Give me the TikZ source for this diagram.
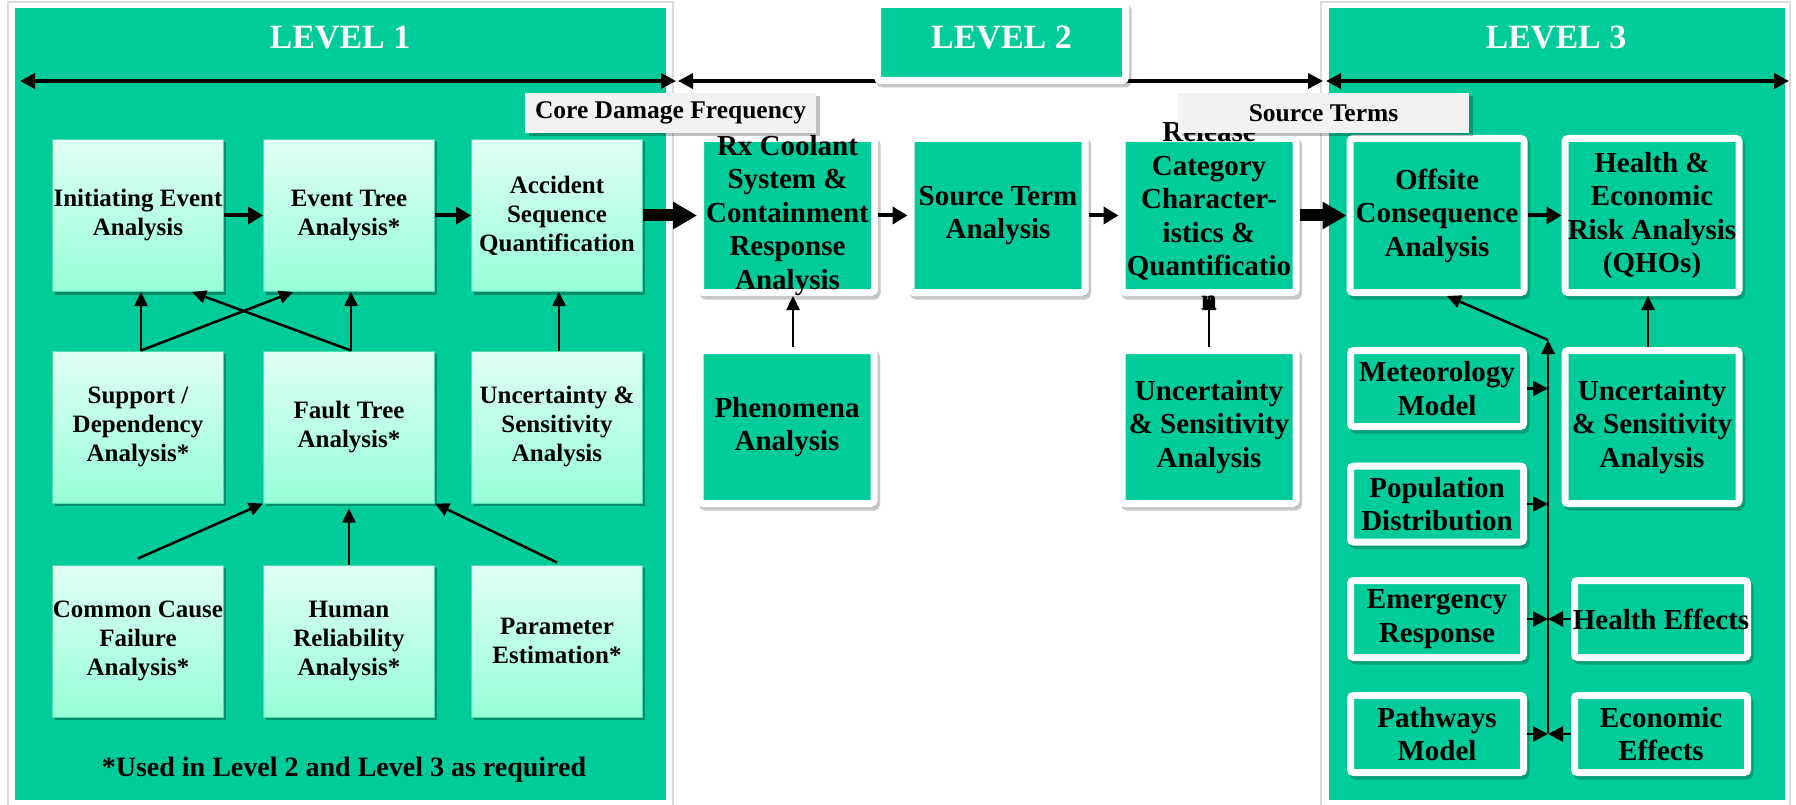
\documentclass[tikz,border=0pt]{standalone}
\usepackage{fontspec}
\setmainfont{Liberation Serif}
\usetikzlibrary{arrows.meta}

\definecolor{panel}{RGB}{0,204,153}
\definecolor{mintT}{RGB}{224,255,246}
\definecolor{mintB}{RGB}{150,255,216}
\definecolor{rim}{RGB}{80,222,176}
\definecolor{tagfill}{RGB}{242,242,242}

% light box of the first level: shaded fill, text set in a separate node
\newcommand\lightbox[6]{%
  \node[lbox, minimum width=#4pt, minimum height=#5pt] (#1) at (#2,#3) {};
  \node[ltext] (#1-txt) at (#1.center) {#6};}
% green box in a white frame
\newcommand\greenbox[6]{%
  \node[fbox, minimum width=#4pt, minimum height=#5pt] (#1) at (#2,#3) {};
  \node[ftext] (#1-txt) at (#1.center) {#6};}

\begin{document}
\begin{tikzpicture}[x=1pt,y=-1pt,
  pframe/.style={fill=white, draw=black!14, line width=1.5pt},
  ttl/.style={text=white, font=\fontsize{34}{40}\selectfont\bfseries, inner sep=0pt},
  lbox/.style={rectangle, inner sep=0pt, top color=mintT, bottom color=mintB,
    draw=rim, line width=1pt,
    preaction={fill=black!55!panel, opacity=0.55,
      transform canvas={shift={(2.5pt,-3pt)}}}},
  ltext/.style={font=\fontsize{25}{29}\selectfont\bfseries, align=center, inner sep=0pt},
  fbox/.style={rectangle, inner sep=0pt, fill=panel, draw=white, line width=7pt,
    rounded corners=3pt,
    preaction={draw=black, fill=black, opacity=0.22,
      transform canvas={shift={(2.5pt,-3.5pt)}}}},
  ftext/.style={font=\fontsize{29}{33.5}\selectfont\bfseries, align=center, inner sep=0pt},
  tag/.style={rectangle, inner sep=0pt, fill=tagfill,
    font=\fontsize{25.5}{30}\selectfont\bfseries,
    preaction={fill=black, opacity=0.25, transform canvas={shift={(4pt,-3pt)}}}},
  foot/.style={font=\fontsize{28}{33}\selectfont\bfseries, inner sep=0pt},
  span/.style={{Triangle[length=15pt,width=15pt]}-{Triangle[length=15pt,width=15pt]}, line width=3.5pt},
  flow/.style={-{Triangle[length=15pt,width=17pt]}, line width=4pt},
  bigflow/.style={-{Triangle[length=24pt,width=26pt]}, line width=12pt},
  feed/.style={-{Triangle[length=14pt,width=13pt]}, line width=2.5pt},
  tick/.style={-{Triangle[length=15pt,width=15pt]}, line width=2.5pt}]

\useasboundingbox (0,0) rectangle (1796,805);
\fill[white] (0,0) rectangle (1796,805);

% level panels
\draw[pframe] (8,2) rectangle (673,812);
\fill[panel] (15,8) rectangle (666,800);
\draw[pframe] (1321,2) rectangle (1790,812);
\fill[panel] (1329,8) rectangle (1785,800);

\node[ttl] (lv1) at (340,38) {LEVEL 1};
\node[ttl] (lv3) at (1556,38) {LEVEL 3};

% spans of the three levels
\coordinate (a1l) at (20,81);   \coordinate (a1r) at (676,81);
\coordinate (a2l) at (678,81);  \coordinate (a2r) at (1323,81);
\coordinate (a3l) at (1326,81); \coordinate (a3r) at (1789,81);
\draw[span] (a1l) -- (a1r);
\draw[span] (a2l) -- (a2r);
\draw[span] (a3l) -- (a3r);

\node[fbox, minimum width=248pt, minimum height=76pt] (lv2box) at (1001.5,42.5) {};
\node[ttl] (lv2) at (1001.5,38) {LEVEL 2};

% level 1 analyses
\lightbox{ie}{138}{215.5}{171}{152}{Initiating Event\\Analysis}
\lightbox{et}{349}{215.5}{171}{152}{Event Tree\\Analysis*}
\lightbox{asq}{557}{215.5}{171}{152}{Accident\\Sequence\\Quantification}
\lightbox{sd}{138}{427}{171}{152}{Support /\\Dependency\\Analysis*}
\lightbox{ft}{349}{427}{171}{152}{Fault Tree\\Analysis*}
\lightbox{us1}{557}{427}{171}{152}{Uncertainty \&\\Sensitivity\\Analysis}
\lightbox{ccf}{138}{641}{171}{152}{Common Cause\\Failure\\Analysis*}
\lightbox{hra}{349}{641}{171}{152}{Human\\Reliability\\Analysis*}
\lightbox{pe}{557}{641}{171}{152}{Parameter\\Estimation*}

\node[foot] (note) at (344,770) {*Used in Level 2 and Level 3 as required};

% level 2 analyses
\greenbox{rx}{787.5}{215.5}{174}{154}{Rx Coolant\\System \&\\Containment\\Response\\Analysis}
\greenbox{st}{998}{215.5}{174}{154}{Source Term\\Analysis}
\greenbox{rel}{1209}{215.5}{174}{154}{Release\\Category\\Character-\\istics \&\\Quantificatio\\n}
\greenbox{ph}{787}{427}{174}{153}{Phenomena\\Analysis}
\greenbox{us2}{1209}{427}{174}{153}{Uncertainty\\\& Sensitivity\\Analysis}

% level 3 analyses
\greenbox{off}{1437}{215.5}{174}{154}{Offsite\\Consequence\\Analysis}
\greenbox{her}{1652}{215.5}{174}{154}{Health \&\\Economic\\Risk Analysis\\(QHOs)}
\greenbox{us3}{1652}{427}{174}{153}{Uncertainty\\\& Sensitivity\\Analysis}
\greenbox{met}{1437}{388.5}{173}{76}{Meteorology\\Model}
\greenbox{pop}{1437}{504}{173}{76}{Population\\Distribution}
\greenbox{emr}{1437}{619}{173}{77}{Emergency\\Response}
\greenbox{pw}{1437}{734}{173}{77}{Pathways\\Model}
\greenbox{hef}{1661}{619}{173}{77}{Health Effects}
\greenbox{eco}{1661}{734}{173}{77}{Economic\\Effects}

% main flow
\draw[flow] (ie) -- (et);
\draw[flow] (et) -- (asq);
\draw[bigflow] (asq) -- (rx);
\draw[flow] (rx) -- (st);
\draw[flow] (st) -- (rel);
\draw[bigflow] (rel) -- (off);
\draw[flow] (off) -- (her);

% supporting analyses of level 1
\coordinate (sdTop) at ([xshift=3pt]sd.north);
\coordinate (ftTop) at ([xshift=2pt]ft.north);
\coordinate (usTop) at ([xshift=2pt]us1.north);
\draw[feed] (sdTop) -- (sdTop |- ie.south);
\draw[feed] (sdTop) -- ([xshift=30pt]et.south west);
\draw[feed] (ftTop) -- (ftTop |- et.south);
\draw[feed] (ftTop) -- ([xshift=-32pt]ie.south east);
\draw[feed] (usTop) -- (usTop |- asq.south);
\draw[feed] ([yshift=6pt]ccf.north) -- (ft.south west);
\draw[feed] (hra.north) -- ([yshift=-5pt]ft.south);
\draw[feed] ([yshift=2pt]pe.north) -- (ft.south east);

% supporting analyses of levels 2 and 3
\coordinate (phTop) at ([xshift=6pt]ph.north);
\coordinate (u3Top) at ([xshift=-4pt]us3.north);
\draw[feed] (phTop) -- (phTop |- rx.south);
\draw[feed] (us2.north) -- (us2.north |- rel.south);
\draw[feed] (u3Top) -- (u3Top |- her.south);

% collector of the consequence models
\coordinate (busB) at (1548,733);
\coordinate (busT) at (1548,340);
\draw[feed] (busB) -- (busT);
\draw[feed] (busT) -- ([xshift=10pt]off.south);
\draw[tick] (met) -- (met -| busT);
\draw[tick] (pop) -- (pop -| busT);
\draw[tick] (emr) -- (emr -| busT);
\draw[tick] (pw) -- (pw -| busT);
\draw[tick] (hef) -- (hef -| busT);
\draw[tick] (eco) -- (eco -| busT);

% results passed on
\node[tag, minimum width=291pt, minimum height=40pt] (cdf) at (670.5,113) {Core Damage Frequency};
\node[tag, minimum width=291pt, minimum height=40pt] (stm) at (1323.5,113) {Source Terms};
\end{tikzpicture}
\end{document}
